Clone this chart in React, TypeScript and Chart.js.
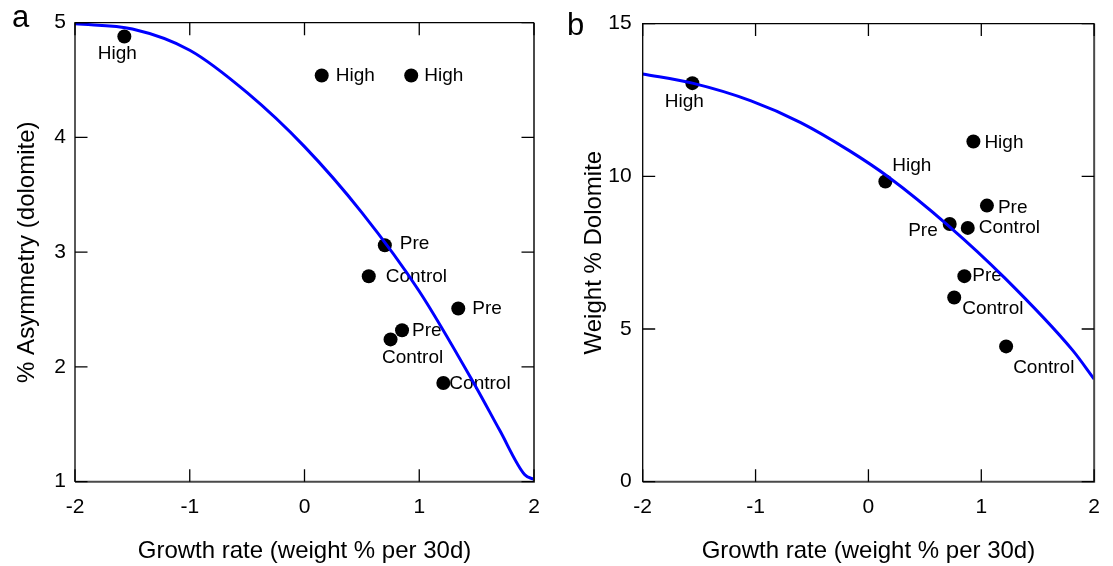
import React, { useEffect, useRef } from 'react';
import { Chart, registerables } from 'chart.js';

Chart.register(...registerables);

const FONT = '"Liberation Sans", Arial, Helvetica, sans-serif';

// ---------- Panel a: % Asymmetry (dolomite) ----------
const growthA = [-1.57, 0.15, 0.93, 0.7, 0.56, 1.34, 0.85, 0.75, 1.21];
const asymmetryA = [4.88, 4.54, 4.54, 3.06, 2.79, 2.51, 2.32, 2.24, 1.86];
const groupA = ['High', 'High', 'High', 'Pre', 'Control', 'Pre', 'Pre', 'Control', 'Control'];
const fitAx = [-2, -1.5, -1, -0.5, 0, 0.5, 1, 1.5, 1.7, 1.92, 2];
const fitAy = [4.99, 4.945, 4.76, 4.39, 3.92, 3.345, 2.66, 1.815, 1.45, 1.06, 1.02];
const ticksAx = [-2, -1, 0, 1, 2];
const ticksAy = [1, 2, 3, 4, 5];

// ---------- Panel b: Weight % Dolomite ----------
const growthB = [-1.56, 0.15, 0.93, 1.05, 0.72, 0.88, 0.85, 0.76, 1.22];
const dolomiteB = [13.05, 9.83, 11.14, 9.04, 8.44, 8.31, 6.73, 6.03, 4.43];
const groupB = ['High', 'High', 'High', 'Pre', 'Pre', 'Control', 'Pre', 'Control', 'Control'];
const fitBx = [-2, -1.56, -1.04, -0.6, -0.17, 0.18, 0.71, 1.2, 1.81, 2];
const fitBy = [13.35, 13.05, 12.47, 11.76, 10.84, 9.97, 8.38, 6.7, 4.3, 3.36];
const ticksBx = [-2, -1, 0, 1, 2];
const ticksBy = [0, 5, 10, 15];

// label placement (style only): offset from the point in px, and alignment
type LabelPos = { dx: number; dy: number; align: CanvasTextAlign };
const labelPosA: LabelPos[] = [
  { dx: -7, dy: 17, align: 'center' },
  { dx: 14, dy: 0, align: 'left' },
  { dx: 13, dy: 0, align: 'left' },
  { dx: 15, dy: -2, align: 'left' },
  { dx: 17, dy: 0, align: 'left' },
  { dx: 14, dy: 0, align: 'left' },
  { dx: 10, dy: 1, align: 'left' },
  { dx: 22, dy: 18, align: 'center' },
  { dx: 6, dy: 1, align: 'left' },
];
const labelPosB: LabelPos[] = [
  { dx: -8, dy: 19, align: 'center' },
  { dx: 7, dy: -16, align: 'left' },
  { dx: 11, dy: 1, align: 'left' },
  { dx: 11, dy: 2, align: 'left' },
  { dx: -12, dy: 7, align: 'right' },
  { dx: 11, dy: 0, align: 'left' },
  { dx: 8, dy: 0, align: 'left' },
  { dx: 8, dy: 11, align: 'left' },
  { dx: 7, dy: 21, align: 'left' },
];

type PanelSpec = {
  letter: string;
  letterX: number;
  letterY: number;
  xs: number[];
  ys: number[];
  groups: string[];
  fitX: number[];
  fitY: number[];
  tickX: number[];
  tickY: number[];
  labelPos: LabelPos[];
  yTitle: string;
  yMin: number;
  yMax: number;
  yStep: number;
  yAxisWidth: number;
  yTitlePad: number;
  yTickPad: number;
  padRight: number;
  canvasWidth: number;
};

const panelA: PanelSpec = {
  letter: 'a',
  letterX: 12,
  letterY: 27,
  xs: growthA,
  ys: asymmetryA,
  groups: groupA,
  fitX: fitAx,
  fitY: fitAy,
  tickX: ticksAx,
  tickY: ticksAy,
  labelPos: labelPosA,
  yTitle: '% Asymmetry (dolomite)',
  yMin: 1,
  yMax: 5,
  yStep: 1,
  yAxisWidth: 75,
  yTitlePad: 12.6,
  yTickPad: 9,
  padRight: 22,
  canvasWidth: 556,
};

const panelB: PanelSpec = {
  letter: 'b',
  letterX: 11,
  letterY: 35,
  xs: growthB,
  ys: dolomiteB,
  groups: groupB,
  fitX: fitBx,
  fitY: fitBy,
  tickX: ticksBx,
  tickY: ticksBy,
  labelPos: labelPosB,
  yTitle: 'Weight % Dolomite',
  yMin: 0,
  yMax: 15,
  yStep: 5,
  yAxisWidth: 86.7,
  yTitlePad: 23.6,
  yTickPad: 11,
  padRight: 11,
  canvasWidth: 557,
};

function buildConfig(p: PanelSpec): any {
  const pointData = p.xs.map((x, i) => ({ x, y: p.ys[i] }));
  const fitData = p.fitX.map((x, i) => ({ x, y: p.fitY[i] }));

  const decorPlugin = {
    id: 'decor' + p.letter,
    beforeDatasetsDraw(chart: any) {
      const ctx = chart.ctx;
      const xs = chart.scales.x;
      const ys = chart.scales.y;
      ctx.save();
      ctx.fillStyle = '#000';
      ctx.font = `19px ${FONT}`;
      ctx.textBaseline = 'middle';
      p.groups.forEach((g, i) => {
        const lp = p.labelPos[i];
        ctx.textAlign = lp.align;
        ctx.fillText(g, xs.getPixelForValue(p.xs[i]) + lp.dx, ys.getPixelForValue(p.ys[i]) + lp.dy);
      });
      ctx.restore();
    },
    afterDraw(chart: any) {
      const ctx = chart.ctx;
      const { left, right, top, bottom } = chart.chartArea;
      const xs = chart.scales.x;
      const ys = chart.scales.y;
      ctx.save();
      // frame
      ctx.strokeStyle = '#000';
      ctx.lineWidth = 1.3;
      ctx.beginPath();
      ctx.moveTo(left, bottom);
      ctx.lineTo(left, top);
      ctx.lineTo(right, top);
      ctx.stroke();
      ctx.strokeStyle = '#4a4a4a';
      ctx.lineWidth = 2;
      ctx.beginPath();
      ctx.moveTo(right, top);
      ctx.lineTo(right, bottom);
      ctx.lineTo(left, bottom);
      ctx.stroke();
      // inward ticks
      const tl = 12.5;
      ctx.strokeStyle = '#000';
      ctx.lineWidth = 1.3;
      ctx.beginPath();
      p.tickX.forEach((v) => {
        const px = xs.getPixelForValue(v);
        ctx.moveTo(px, bottom);
        ctx.lineTo(px, bottom - tl);
        ctx.moveTo(px, top);
        ctx.lineTo(px, top + tl);
      });
      p.tickY.forEach((v) => {
        const py = ys.getPixelForValue(v);
        ctx.moveTo(left, py);
        ctx.lineTo(left + tl, py);
        ctx.moveTo(right, py);
        ctx.lineTo(right - tl, py);
      });
      ctx.stroke();
      // panel letter
      ctx.fillStyle = '#000';
      ctx.font = `31px ${FONT}`;
      ctx.textAlign = 'left';
      ctx.textBaseline = 'alphabetic';
      ctx.fillText(p.letter, p.letterX, p.letterY);
      ctx.restore();
    },
  };

  return {
    type: 'scatter',
    data: {
      datasets: [
        {
          type: 'line',
          data: fitData,
          borderColor: '#0000ff',
          borderWidth: 3,
          pointRadius: 0,
          fill: false,
          showLine: true,
          cubicInterpolationMode: 'monotone',
        },
        {
          type: 'scatter',
          data: pointData,
          pointRadius: 7,
          pointHoverRadius: 7,
          backgroundColor: '#000',
          borderWidth: 0,
        },
      ],
    },
    options: {
      responsive: false,
      animation: false,
      events: [],
      layout: { padding: { top: 22.7, right: p.padRight, bottom: 0, left: 0 } },
      plugins: { legend: { display: false }, tooltip: { enabled: false } },
      scales: {
        x: {
          type: 'linear',
          position: 'bottom',
          min: -2,
          max: 2,
          grid: { display: false, drawTicks: false },
          border: { display: false },
          ticks: {
            stepSize: 1,
            color: '#000',
            padding: 13,
            font: { family: FONT, size: 21 },
            callback: (v: any) => String(v),
          },
          title: {
            display: true,
            text: 'Growth rate (weight % per 30d)',
            color: '#000',
            font: { family: FONT, size: 24 },
            padding: { top: 0, bottom: 0 },
          },
          afterFit: (s: any) => {
            s.height = 84.3;
          },
        },
        y: {
          type: 'linear',
          position: 'left',
          min: p.yMin,
          max: p.yMax,
          grid: { display: false, drawTicks: false },
          border: { display: false },
          ticks: {
            stepSize: p.yStep,
            color: '#000',
            padding: p.yTickPad,
            font: { family: FONT, size: 21 },
            callback: (v: any) => String(v),
          },
          title: {
            display: true,
            text: p.yTitle,
            color: '#000',
            font: { family: FONT, size: 24 },
            padding: { top: p.yTitlePad, bottom: 0 },
          },
          afterFit: (s: any) => {
            s.width = p.yAxisWidth;
          },
        },
      },
    },
    plugins: [decorPlugin],
  };
}

function Panel({ spec, left }: { spec: PanelSpec; left: number }) {
  const ref = useRef<HTMLCanvasElement>(null);
  useEffect(() => {
    if (!ref.current) return;
    const chart = new Chart(ref.current, buildConfig(spec));
    return () => chart.destroy();
  }, [spec]);
  return (
    <canvas
      ref={ref}
      width={spec.canvasWidth}
      height={566}
      style={{ position: 'absolute', left, top: 0, width: spec.canvasWidth, height: 566 }}
    />
  );
}

export default function App() {
  return (
    <div style={{ position: 'absolute', left: 0, top: 0, width: 1113, height: 566, background: '#fff', overflow: 'hidden' }}>
      <Panel spec={panelA} left={0} />
      <Panel spec={panelB} left={556} />
    </div>
  );
}
